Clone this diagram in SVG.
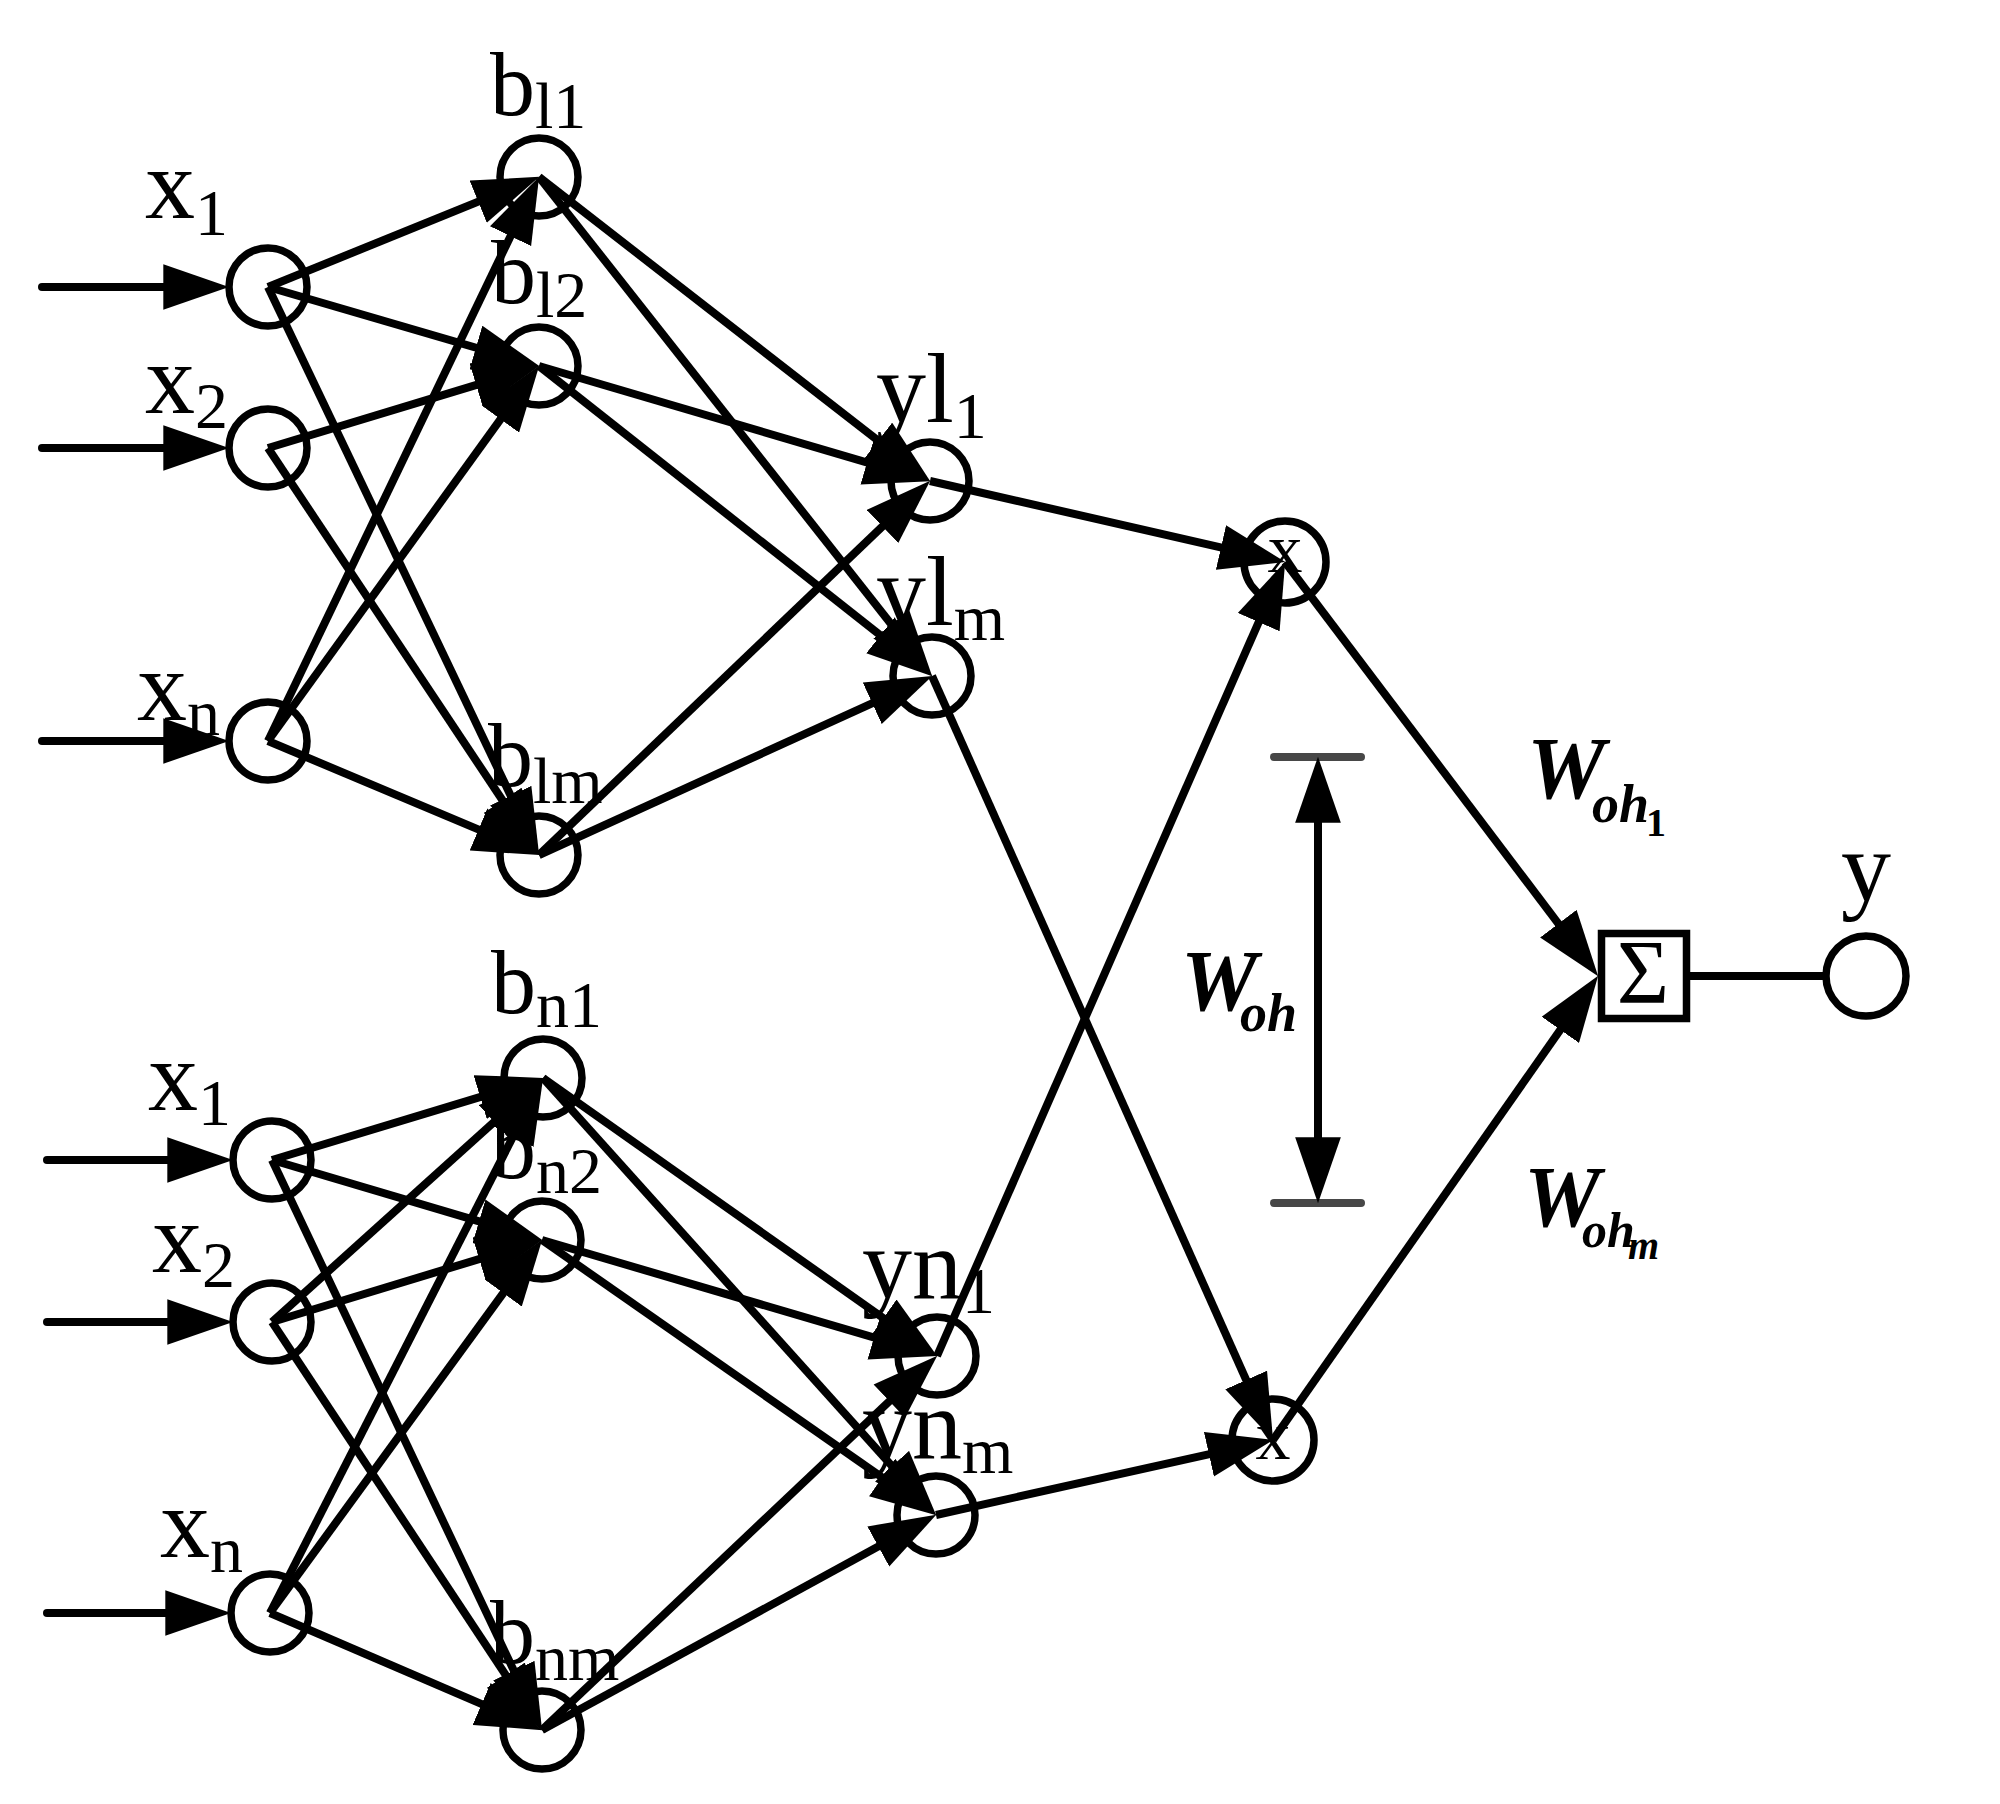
<svg xmlns="http://www.w3.org/2000/svg" width="2000" height="1804" viewBox="0 0 2000 1804">
<defs>
<style>
.n{fill:none;stroke:#000;stroke-width:7.5}
.e line{stroke:#000;stroke-width:8;marker-end:url(#ah)}
.e line.in{stroke-linecap:round}
.e line.plain{marker-end:none}
text{font-family:"Liberation Serif","Times New Roman",serif;fill:#000}
.m{font-size:100px}
.bb{font-size:90px}
.s{font-size:66px}
.xs{font-size:70px}
.w{font-style:italic;font-weight:bold}
.cap{stroke:#474747;stroke-width:8;stroke-linecap:round}
</style>
<marker id="ah" markerUnits="userSpaceOnUse" markerWidth="66" markerHeight="46" viewBox="0 0 65 45" refX="45" refY="22.5" orient="auto"><path d="M0,0 L65,22.5 L0,45 z" fill="#000"/></marker>
<marker id="ah2" markerUnits="userSpaceOnUse" markerWidth="66" markerHeight="46" viewBox="0 0 65 45" refX="45" refY="22.5" orient="auto-start-reverse"><path d="M0,0 L65,22.5 L0,45 z" fill="#000"/></marker>
</defs>
<rect width="2000" height="1804" fill="#fff"/>

<!-- top group nodes -->
<g id="x1-top"><circle class="n" cx="268" cy="287" r="39"/><text class="m" x="145" y="218">x<tspan class="s" dy="17">1</tspan></text></g>
<g id="x2-top"><circle class="n" cx="268" cy="448" r="39"/><text class="m" x="145" y="413">x<tspan class="s" dy="15">2</tspan></text></g>
<g id="xn-top"><circle class="n" cx="268" cy="741" r="39"/><text class="m" x="137" y="720">x<tspan class="s" dy="15">n</tspan></text></g>
<g id="b11"><circle class="n" cx="539" cy="177" r="39"/><text class="bb" x="490" y="115">b<tspan class="s" dy="13">l1</tspan></text></g>
<g id="b12"><circle class="n" cx="539" cy="366" r="39"/><text class="bb" x="491" y="303">b<tspan class="s" dy="14">l2</tspan></text></g>
<g id="blm"><circle class="n" cx="539" cy="855" r="39"/><text class="bb" x="488" y="786">b<tspan class="s" dy="17">lm</tspan></text></g>
<g id="yl1"><circle class="n" cx="930" cy="481" r="39"/><text class="m" x="876" y="422">yl<tspan class="s" dy="16">1</tspan></text></g>
<g id="ylm"><circle class="n" cx="932" cy="676" r="39"/><text class="m" x="876" y="625">yl<tspan class="s" dy="15">m</tspan></text></g>

<!-- bottom group nodes -->
<g id="x1-bottom"><circle class="n" cx="272" cy="1160" r="39"/><text class="m" x="148" y="1110">x<tspan class="s" dy="15">1</tspan></text></g>
<g id="x2-bottom"><circle class="n" cx="272" cy="1322" r="39"/><text class="m" x="152" y="1272">x<tspan class="s" dy="15">2</tspan></text></g>
<g id="xn-bottom"><circle class="n" cx="270" cy="1613" r="39"/><text class="m" x="160" y="1557">x<tspan class="s" dy="15">n</tspan></text></g>
<g id="bn1"><circle class="n" cx="543" cy="1078" r="39"/><text class="bb" x="491" y="1013">b<tspan class="s" dy="14">n1</tspan></text></g>
<g id="bn2"><circle class="n" cx="542" cy="1240" r="39"/><text class="bb" x="491" y="1178">b<tspan class="s" dy="15">n2</tspan></text></g>
<g id="bnm"><circle class="n" cx="542" cy="1730" r="39"/><text class="bb" x="490" y="1663">b<tspan class="s" dy="17">nm</tspan></text></g>
<g id="yn1"><circle class="n" cx="937" cy="1356" r="39"/><text class="m" x="862" y="1298">yn<tspan class="s" dy="15">1</tspan></text></g>
<g id="ynm"><circle class="n" cx="936" cy="1515" r="39"/><text class="m" x="862" y="1458">yn<tspan class="s" dy="15">m</tspan></text></g>

<!-- product nodes -->
<g id="prod-top"><circle class="n" cx="1285" cy="562" r="41"/><text class="xs" x="1285" y="572" text-anchor="middle">x</text></g>
<g id="prod-bottom"><circle class="n" cx="1273" cy="1440" r="41"/><text class="xs" x="1273" y="1459" text-anchor="middle">x</text></g>

<!-- sum and output -->
<g id="sum"><rect class="n" x="1601.5" y="933.5" width="85" height="85"/><text x="1643" y="1003" font-size="90" text-anchor="middle">Σ</text></g>
<g id="y-out"><circle class="n" cx="1866" cy="976" r="40"/><text class="m" x="1841" y="901">y</text></g>

<!-- weight labels -->
<g id="label-Woh"><text class="w"><tspan x="1181" y="1010" font-size="86">W</tspan><tspan x="1240" y="1031" font-size="54">oh</tspan></text></g>
<g id="label-Woh1"><text class="w"><tspan x="1527" y="798" font-size="88">W</tspan><tspan x="1592" y="822" font-size="54">oh</tspan><tspan x="1646" y="836" font-size="40" font-style="normal">1</tspan></text></g>
<g id="label-Wohm"><text class="w"><tspan x="1524" y="1226" font-size="86">W</tspan><tspan x="1582" y="1247" font-size="50">oh</tspan><tspan x="1628" y="1259" font-size="40">m</tspan></text></g>

<!-- connectors -->
<g id="connectors" class="e">
<line class="in" x1="42" y1="287" x2="209" y2="287"/>
<line class="in" x1="42" y1="448" x2="209" y2="448"/>
<line class="in" x1="42" y1="741" x2="209" y2="741"/>
<line class="in" x1="47" y1="1160" x2="213" y2="1160"/>
<line class="in" x1="47" y1="1322" x2="213" y2="1322"/>
<line class="in" x1="47" y1="1613" x2="211" y2="1613"/>

<line x1="268" y1="287" x2="520.5" y2="184.5"/>
<line x1="268" y1="287" x2="519.8" y2="360.4"/>
<line x1="268" y1="287" x2="530.4" y2="836.9"/>
<line x1="268" y1="448" x2="519.9" y2="371.8"/>
<line x1="268" y1="448" x2="527.9" y2="838.4"/>
<line x1="268" y1="741" x2="530.3" y2="195"/>
<line x1="268" y1="741" x2="527.3" y2="382.2"/>
<line x1="268" y1="741" x2="520.6" y2="847.2"/>

<line x1="539" y1="177" x2="914.2" y2="468.7"/>
<line x1="539" y1="177" x2="919.6" y2="660.3"/>
<line x1="539" y1="366" x2="910.8" y2="475.4"/>
<line x1="539" y1="366" x2="916.3" y2="663.6"/>
<line x1="539" y1="855" x2="915.5" y2="494.8"/>
<line x1="539" y1="855" x2="913.8" y2="684.3"/>

<line x1="272" y1="1160" x2="523.9" y2="1083.8"/>
<line x1="272" y1="1160" x2="522.8" y2="1234.3"/>
<line x1="272" y1="1160" x2="533.4" y2="1711.9"/>
<line x1="272" y1="1322" x2="528.1" y2="1091.4"/>
<line x1="272" y1="1322" x2="522.9" y2="1245.8"/>
<line x1="272" y1="1322" x2="531" y2="1713.3"/>
<line x1="270" y1="1613" x2="533.9" y2="1095.8"/>
<line x1="270" y1="1613" x2="530.2" y2="1256.2"/>
<line x1="270" y1="1613" x2="523.6" y2="1722.1"/>

<line x1="543" y1="1078" x2="920.7" y2="1344.5"/>
<line x1="543" y1="1078" x2="922.6" y2="1500.1"/>
<line x1="542" y1="1240" x2="917.8" y2="1350.4"/>
<line x1="542" y1="1240" x2="919.6" y2="1503.6"/>
<line x1="542" y1="1730" x2="922.5" y2="1369.8"/>
<line x1="542" y1="1730" x2="918.4" y2="1524.6"/>

<line x1="930" y1="481" x2="1265.5" y2="557.6"/>
<line x1="932" y1="676" x2="1264.8" y2="1421.7"/>
<line x1="937" y1="1356" x2="1277" y2="580.3"/>
<line x1="936" y1="1515" x2="1253.5" y2="1444.3"/>

<line x1="1285" y1="562" x2="1585.9" y2="960.1"/>
<line x1="1273" y1="1440" x2="1586.5" y2="992.4"/>

<line class="plain" x1="1690" y1="976" x2="1826" y2="976"/>
</g>

<!-- W_oh range indicator -->
<g id="woh-range">
<line class="cap" x1="1274" y1="757" x2="1361" y2="757"/>
<line class="cap" x1="1274" y1="1203" x2="1361" y2="1203"/>
<line x1="1318" y1="777" x2="1318" y2="1183" stroke="#000" stroke-width="8" marker-start="url(#ah2)" marker-end="url(#ah2)"/>
</g>
</svg>
